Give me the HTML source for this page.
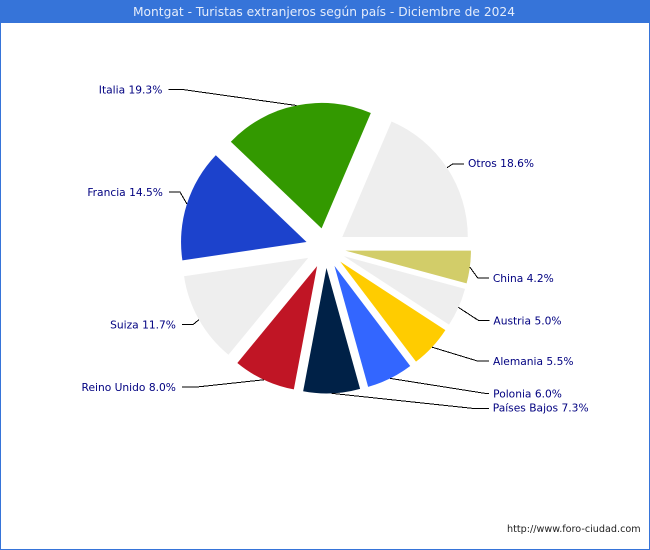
<!DOCTYPE html>
<html lang="es">
<head>
<meta charset="utf-8">
<title>Montgat - Turistas extranjeros según país - Diciembre de 2024</title>
<style>
  html, body { margin: 0; padding: 0; background: #fff; }
  svg { display: block; }
  text { font-family: "DejaVu Sans", "Liberation Sans", sans-serif; }
</style>
</head>
<body>
<svg id="chart" xmlns="http://www.w3.org/2000/svg" width="650" height="550" viewBox="0 0 650 550">
  <rect x="0.5" y="0.5" width="649" height="549" fill="#ffffff" stroke="#3674d9" stroke-width="1"/>
  <rect x="0" y="0" width="650" height="23" fill="#3674d9"/>
  <text x="324" y="16" text-anchor="middle" font-size="12.25" fill="#e4ecfb">Montgat - Turistas extranjeros según país - Diciembre de 2024</text>
  <g id="slices"></g>
  <g id="leaders"></g>
  <g id="labels"></g>
  <text x="507" y="532" font-size="9.65" fill="#222222">http://www.foro-ciudad.com</text>
</svg>
<script>
const categories = ["Otros", "Italia", "Francia", "Suiza", "Reino Unido", "Países Bajos", "Polonia", "Alemania", "Austria", "China"];
const shares = [18.6, 19.3, 14.5, 11.7, 8.0, 7.3, 6.0, 5.5, 5.0, 4.2];
const sliceColors = ["#eeeeee", "#339900", "#1c42cc", "#eeeeee", "#c01525", "#002147", "#3366ff", "#ffcc00", "#eeeeee", "#d2cd69"];

const SVG_NS = "http://www.w3.org/2000/svg";
const CX = 325.6, CY = 248, RADIUS = 125.5, EXPLODE = 20;
const GAP_RIGHT = 4, GAP_LEFT = 6;

/* Leader-line layout for each label: elbow offset from the slice edge, horizontal run length, text baseline shift. */
const leaderLayout = [
  { dx: 6, dy: -4, run: 11, base: 3 },
  { dx: -114, dy: -16, run: 14, base: 4 },
  { dx: -7, dy: -12, run: 11, base: 4 },
  { dx: -6, dy: 5, run: 11, base: 4 },
  { dx: -65, dy: 7, run: 17, base: 4 },
  { dx: 141, dy: 15, run: 16, base: 3 },
  { dx: 95, dy: 15, run: 4, base: 4 },
  { dx: 46, dy: 14, run: 11, base: 4 },
  { dx: 20, dy: 13, run: 11, base: 4 },
  { dx: 8, dy: 11, run: 11, base: 4 }
];

function angleScale(value, total) {
  return value / total * Math.PI * 2;
}
function polar(x, y, r, a) {
  return [x + r * Math.cos(a), y - r * Math.sin(a)];
}
function kebab(s) {
  return s.toLowerCase().normalize("NFD").replace(/[\u0300-\u036f]/g, "").replace(/\s+/g, "-");
}

const total = shares.reduce(function (a, b) { return a + b; }, 0);
const sliceGroup = document.getElementById("slices");
const leaderGroup = document.getElementById("leaders");
const labelGroup = document.getElementById("labels");

let start = 0;
shares.forEach(function (value, i) {
  const sweep = angleScale(value, total);
  const end = start + sweep;
  const mid = start + sweep / 2;
  const apex = polar(CX, CY, EXPLODE, mid);
  const p0 = polar(apex[0], apex[1], RADIUS, start);
  const p1 = polar(apex[0], apex[1], RADIUS, end);
  const large = sweep > Math.PI ? 1 : 0;
  const name = kebab(categories[i]);

  const path = document.createElementNS(SVG_NS, "path");
  path.setAttribute("d", "M" + apex[0] + " " + apex[1] + " L" + p0[0] + " " + p0[1] +
    " A" + RADIUS + " " + RADIUS + " 0 " + large + " 0 " + p1[0] + " " + p1[1] + " Z");
  path.setAttribute("fill", sliceColors[i]);
  
  
  sliceGroup.appendChild(path);

  const layout = leaderLayout[i];
  const edge = polar(apex[0], apex[1], RADIUS, mid);
  const elbowX = edge[0] + layout.dx;
  const elbowY = edge[1] + layout.dy;
  const onRight = Math.cos(mid) > 0;
  const dir = onRight ? 1 : -1;
  const endX = elbowX + dir * layout.run;

  const line = document.createElementNS(SVG_NS, "polyline");
  line.setAttribute("points", edge[0] + "," + edge[1] + " " + elbowX + "," + elbowY + " " + endX + "," + elbowY);
  line.setAttribute("fill", "none");
  line.setAttribute("stroke", "#000000");
  line.setAttribute("stroke-width", "1");
  line.setAttribute("shape-rendering", "crispEdges");
  
  
  leaderGroup.appendChild(line);

  const label = document.createElementNS(SVG_NS, "text");
  label.setAttribute("x", endX + dir * (onRight ? GAP_RIGHT : GAP_LEFT));
  label.setAttribute("y", elbowY + layout.base);
  label.setAttribute("text-anchor", onRight ? "start" : "end");
  label.setAttribute("font-size", "10.67");
  label.setAttribute("fill", "#000080");
  label.textContent = categories[i] + " " + value.toFixed(1) + "%";
  
  
  labelGroup.appendChild(label);

  start = end;
});
</script>
</body>
</html>
